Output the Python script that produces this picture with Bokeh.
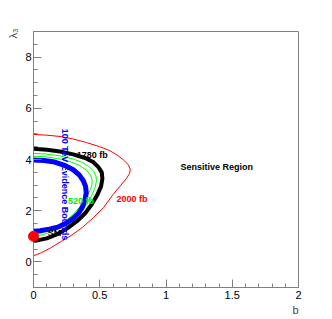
from bokeh.plotting import figure
from bokeh.models import Label, FixedTicker, Range1d, Title
from bokeh.embed import file_html
from bokeh.resources import INLINE
import math

# ---- data ----
x_ticks = [0, 0.5, 1, 1.5, 2]
x_tick_labels = ["0", "0.5", "1", "1.5", "2"]
y_ticks = [0, 2, 4, 6, 8]
y_tick_labels = ["0", "2", "4", "6", "8"]

red_b = [0.0, 0.1, 0.2, 0.3, 0.4, 0.5, 0.57, 0.63, 0.68, 0.715, 0.73, 0.725, 0.7, 0.66, 0.6, 0.53, 0.45, 0.37, 0.29, 0.21, 0.13, 0.06, 0.0]
red_l = [4.98, 4.95, 4.9, 4.8, 4.66, 4.5, 4.36, 4.18, 3.98, 3.8, 3.63, 3.45, 3.25, 3.0, 2.63, 2.13, 1.72, 1.35, 1.05, 0.8, 0.55, 0.36, 0.24]

black_b = [0.0, 0.1, 0.2, 0.3, 0.39, 0.45, 0.49, 0.515, 0.52, 0.51, 0.48, 0.44, 0.39, 0.33, 0.26, 0.18, 0.1, 0.03, 0.0]
black_l = [4.42, 4.38, 4.31, 4.2, 4.06, 3.9, 3.7, 3.5, 3.25, 2.95, 2.6, 2.25, 1.9, 1.6, 1.33, 1.08, 0.92, 0.84, 0.83]

green1_b = [0.0, 0.1, 0.2, 0.3, 0.37, 0.42, 0.455, 0.472, 0.475, 0.465, 0.44, 0.4, 0.35, 0.29, 0.22, 0.15, 0.08, 0.02, 0.0]
green1_l = [4.24, 4.21, 4.14, 4.02, 3.88, 3.72, 3.54, 3.35, 3.15, 2.9, 2.6, 2.25, 1.92, 1.62, 1.38, 1.2, 1.08, 1.01, 1.0]
green2_b = [0.0, 0.1, 0.2, 0.28, 0.35, 0.4, 0.43, 0.443, 0.44, 0.42, 0.39, 0.35, 0.3, 0.24, 0.17, 0.1, 0.04, 0.0]
green2_l = [4.13, 4.1, 4.02, 3.91, 3.76, 3.58, 3.4, 3.2, 2.98, 2.72, 2.45, 2.15, 1.86, 1.58, 1.35, 1.2, 1.11, 1.09]

blue_b = [0.0, 0.08, 0.16, 0.24, 0.3, 0.345, 0.375, 0.393, 0.398, 0.39, 0.37, 0.34, 0.3, 0.25, 0.19, 0.12, 0.05, 0.0]
blue_l = [3.98, 3.96, 3.9, 3.76, 3.6, 3.4, 3.18, 2.95, 2.7, 2.45, 2.15, 1.9, 1.7, 1.52, 1.37, 1.28, 1.22, 1.2]

sm_b = [0.0]
sm_l = [1.0]

FONT = "Liberation Sans"
AX = "#808080"

p = figure(frame_width=265, frame_height=256, output_backend="svg", toolbar_location=None,
           x_range=Range1d(0, 2), y_range=Range1d(-1, 9),
           min_border_left=33, min_border_right=26, min_border_top=31, min_border_bottom=32)
p.background_fill_color = "white"
p.border_fill_color = "white"
p.outline_line_color = AX
p.outline_line_width = 1
p.grid.visible = False

p.xaxis.ticker = FixedTicker(ticks=x_ticks, minor_ticks=[i / 10 for i in range(0, 21)])
p.yaxis.ticker = FixedTicker(ticks=y_ticks, minor_ticks=[-1 + i * 0.5 for i in range(0, 21)])
p.xaxis.major_label_overrides = dict(zip(x_ticks, x_tick_labels))
p.yaxis.major_label_overrides = dict(zip(y_ticks, y_tick_labels))
for ax in (p.xaxis, p.yaxis):
    ax.axis_line_color = AX
    ax.major_tick_line_color = AX
    ax.minor_tick_line_color = AX
    ax.major_tick_in = 8
    ax.major_tick_out = 0
    ax.minor_tick_in = 4
    ax.minor_tick_out = 0
    ax.major_label_text_font = FONT
    ax.major_label_text_font_size = "11px"
    ax.major_label_text_color = "black"
p.xaxis.major_label_standoff = 3
p.yaxis.major_label_standoff = 2

p.line(red_b, red_l, line_color="#ff0000", line_width=1)
p.line(green1_b, green1_l, line_color="#00ff00", line_width=1)
p.line(green2_b, green2_l, line_color="#00ff00", line_width=1)
p.line(black_b, black_l, line_color="black", line_width=4)
p.line(blue_b, blue_l, line_color="#0000ff", line_width=5)
dot = p.scatter(sm_b, sm_l, size=10, fill_color="#ff0000", line_color="#ff0000")
dot.level = "overlay"

def lab(x, y, text, color="black", size="9px", style="bold", angle=0, align="left", baseline="middle"):
    p.add_layout(Label(x=x, y=y, text=text, text_color=color, text_font=FONT,
                       text_font_size=size, text_font_style=style, angle=angle,
                       text_align=align, text_baseline=baseline))

lab(0.327, 4.17, "1780 fb")
lab(0.26, 2.37, "520 fb", color="#00ee00")
lab(0.626, 2.47, "2000 fb", color="#ff0000")
lab(1.109, 3.7, "Sensitive Region")
lab(0.108, 1.14, "SM")
lab(0.2415, 5.2, "100 TeV Evidence Bounds", color="#0000ff", angle=-math.pi / 2)

p.add_layout(Title(text="λ₃", align="right", text_font=FONT, text_font_size="11px",
                   text_font_style="normal", standoff=7, offset=-3), "left")
p.add_layout(Title(text="b", align="right", text_font=FONT, text_font_size="11px",
                   text_font_style="normal", standoff=0, offset=0), "below")

open("out.html", "w").write(file_html(p, INLINE))
